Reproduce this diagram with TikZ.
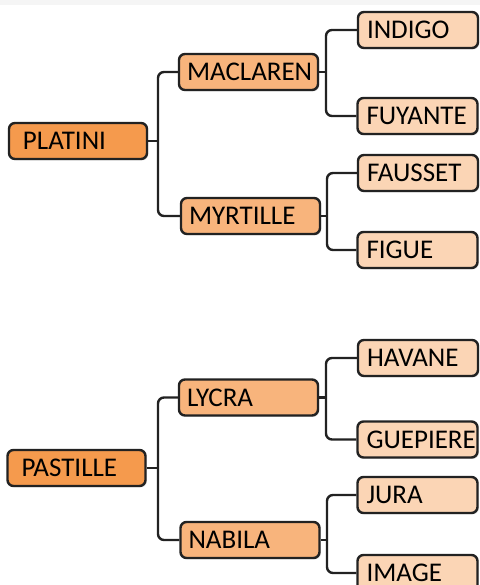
\documentclass[tikz,border=0pt]{standalone}
\usepackage{fontspec}
\setmainfont{Carlito}
\usetikzlibrary{shadows}
\definecolor{rootcol}{HTML}{F59A4D}
\definecolor{midcol}{HTML}{F8B47C}
\definecolor{leafcol}{HTML}{FBD5B5}
\definecolor{edgecol}{HTML}{222222}
\tikzset{
  box/.style={draw=edgecol, line width=1.2pt, rounded corners=3pt, minimum height=18pt,
    inner ysep=2pt, align=left, font=\fontsize{13.5}{15}\selectfont,
    drop shadow={shadow xshift=0.7pt, shadow yshift=-0.7pt, opacity=0.2}},
  rootbox/.style={box, fill=rootcol, inner xsep=7pt, text width=55pt},
  midbox/.style={box, fill=midcol, inner xsep=4pt, text width=61.5pt},
  leafbox/.style={box, fill=leafcol, inner xsep=4.5pt, text width=51pt},
  link/.style={draw=edgecol, line width=1.2pt, rounded corners=3pt}
}
\begin{document}
\begin{tikzpicture}[x=0.5pt,y=-0.5pt]
  \useasboundingbox (0,0) rectangle (480,585);
  \clip (0,0) rectangle (480,585);
  \fill[black!4] (0,0) rectangle (480,5);
  % first tree
  \node[rootbox] (platini) at (78,141) {PLATINI};
  \node[midbox] (maclaren) at (248.5,72) {MACLAREN};
  \node[midbox] (myrtille) at (250.5,216) {MYRTILLE};
  \node[leafbox] (indigo) at (418,30) {INDIGO};
  \node[leafbox] (fuyante) at (417.5,116) {FUYANTE};
  \node[leafbox] (fausset) at (418,173) {FAUSSET};
  \node[leafbox] (figue) at (417.5,250) {FIGUE};
  \coordinate (ja) at (158,141);
  \coordinate (jb) at (326,72);
  \coordinate (jc) at (327,216);
  \draw[link] (platini.east) -- (ja);
  \draw[link] (maclaren.west) -| (ja) |- (myrtille.west);
  \draw[link] (maclaren.east) -- (jb);
  \draw[link] (indigo.west) -| (jb) |- (fuyante.west);
  \draw[link] (myrtille.east) -- (jc);
  \draw[link] (fausset.west) -| (jc) |- (figue.west);
  % second tree
  \node[rootbox] (pastille) at (76.5,468) {PASTILLE};
  \node[midbox] (lycra) at (248.5,397.5) {LYCRA};
  \node[midbox] (nabila) at (250,540) {NABILA};
  \node[leafbox] (havane) at (418,358) {HAVANE};
  \node[leafbox] (guepiere) at (417.5,439.5) {GUEPIERE};
  \node[leafbox] (jura) at (417.5,495) {JURA};
  \node[leafbox] (image) at (417.5,573) {IMAGE};
  \coordinate (jd) at (158,468);
  \coordinate (je) at (326,397.5);
  \coordinate (jf) at (327,540);
  \draw[link] (pastille.east) -- (jd);
  \draw[link] (lycra.west) -| (jd) |- (nabila.west);
  \draw[link] (lycra.east) -- (je);
  \draw[link] (havane.west) -| (je) |- (guepiere.west);
  \draw[link] (nabila.east) -- (jf);
  \draw[link] (jura.west) -| (jf) |- (image.west);
\end{tikzpicture}
\end{document}
